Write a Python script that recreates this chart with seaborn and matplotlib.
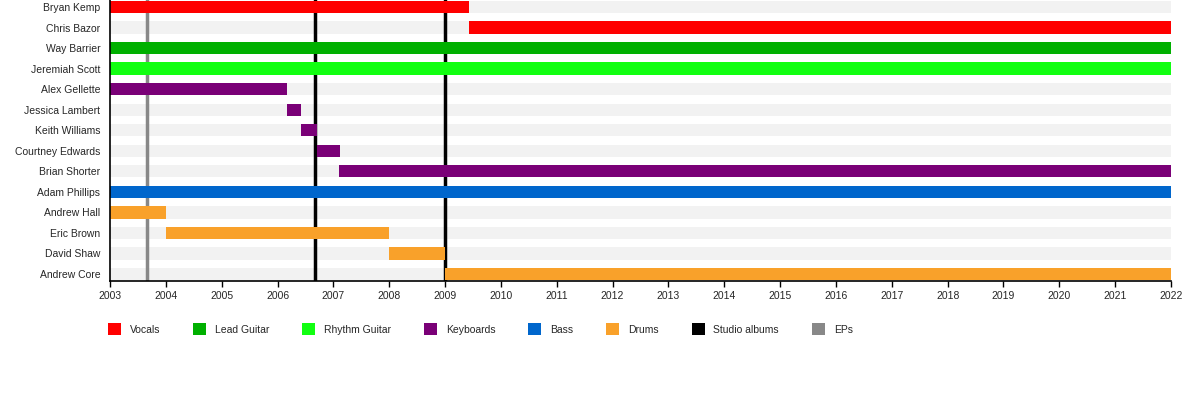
import matplotlib
matplotlib.use("Agg")
import matplotlib.pyplot as plt
from matplotlib.patches import Patch
import seaborn as sns

# Band members timeline
members = ['Bryan Kemp', 'Chris Bazor', 'Way Barrier', 'Jeremiah Scott', 'Alex Gellette',
           'Jessica Lambert', 'Keith Williams', 'Courtney Edwards', 'Brian Shorter',
           'Adam Phillips', 'Andrew Hall', 'Eric Brown', 'David Shaw', 'Andrew Core']
starts = [2003.0, 2009.43, 2003.0, 2003.0, 2003.0, 2006.17, 2006.42, 2006.7, 2007.1,
          2003.0, 2003.0, 2004.0, 2008.0, 2009.0]
ends = [2009.43, 2022.0, 2022.0, 2022.0, 2006.17, 2006.42, 2006.7, 2007.12, 2022.0,
        2022.0, 2004.0, 2008.0, 2009.0, 2022.0]
roles = ['Vocals', 'Vocals', 'Lead Guitar', 'Rhythm Guitar', 'Keyboards', 'Keyboards',
         'Keyboards', 'Keyboards', 'Keyboards', 'Bass', 'Drums', 'Drums', 'Drums', 'Drums']

role_names = ['Vocals', 'Lead Guitar', 'Rhythm Guitar', 'Keyboards', 'Bass', 'Drums']
role_colors = ['#ff0000', '#00b000', '#11ff11', '#7a0077', '#0066cc', '#f9a12a']

studio_albums = [2006.67, 2009.0]
eps = [2003.66]

year_start, year_end = 2003, 2022

sns.set_theme(style='white')
plt.rcParams['font.family'] = ['Liberation Sans', 'DejaVu Sans']

fig = plt.figure(figsize=(12, 4), dpi=100)
ax = fig.add_axes([110 / 1200, 1 - 281 / 400, (1171 - 110) / 1200, 281 / 400])

color_map = dict(zip(role_names, role_colors))
rows = list(range(len(members)))
bar_h = 0.6

# background stripes
ax.barh(rows, [year_end - year_start] * len(rows), left=year_start, height=bar_h,
        color='#f2f2f2', edgecolor='none', linewidth=0, zorder=1)

for x in studio_albums:
    ax.axvline(x, color='black', lw=2.5, zorder=2)
for x in eps:
    ax.axvline(x, color='#888888', lw=2.5, zorder=2)

ax.barh(rows, [e - s for s, e in zip(starts, ends)], left=starts, height=bar_h,
        color=[color_map[r] for r in roles], edgecolor='none', linewidth=0, zorder=3)

ax.set_xlim(year_start, year_end)
ax.set_ylim(len(members) - 1 + 0.34, -0.34)
ax.set_yticks(rows)
ax.set_yticklabels(members, fontsize=7.5)
ax.set_xticks(range(year_start, year_end + 1))
ax.set_xticklabels([str(y) for y in range(year_start, year_end + 1)], fontsize=7.5)
ax.tick_params(axis='x', bottom=True, length=4, width=1, color='black', pad=3)
ax.tick_params(axis='y', left=False, pad=1)

for side in ['top', 'right']:
    ax.spines[side].set_visible(False)
for side in ['left', 'bottom']:
    ax.spines[side].set_color('black')
    ax.spines[side].set_linewidth(1.2)
    ax.spines[side].set_zorder(4)

handles = [Patch(facecolor=c, edgecolor='none') for c in role_colors]
handles += [Patch(facecolor='black', edgecolor='none'), Patch(facecolor='#888888', edgecolor='none')]
labels = role_names + ['Studio albums', 'EPs']
fig.legend(handles, labels, loc='center left', bbox_to_anchor=(104 / 1200, 1 - 329 / 400),
           ncol=8, frameon=False, fontsize=7.5, handlelength=1.25, handleheight=1.25,
           handletextpad=0.85, columnspacing=3.15, borderaxespad=0)

fig.savefig('out.png', dpi=100, facecolor='white')
